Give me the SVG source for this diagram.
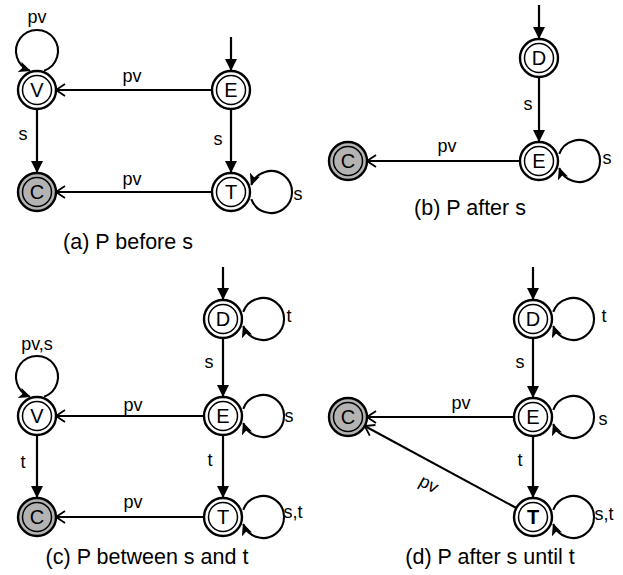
<svg xmlns="http://www.w3.org/2000/svg" width="623" height="575" viewBox="0 0 623 575">
  <style>
    text { font-family: "Liberation Sans", Arial, sans-serif; fill: #000; }
    .ring { fill: #fff; stroke: #000; stroke-width: 2.4; }
    .inner { fill: #fff; stroke: #000; stroke-width: 1.5; }
    .final .ring, .final .inner { fill: #b3b3b3; }
    .nl { font-size: 20px; text-anchor: middle; }
    .lbl { font-size: 18px; text-anchor: middle; }
    .cap { font-size: 21.5px; text-anchor: middle; }
    .edge { fill: none; stroke: #000; stroke-width: 2.2; }
    .down { marker-end: url(#tri); }
    .back { stroke-width: 2; marker-end: url(#open); }
    .loop { stroke-width: 2.1; marker-end: url(#barb); }
  </style>
  <defs>
    <marker id="tri" viewBox="0 0 12 12" refX="11" refY="6" markerWidth="12" markerHeight="12" markerUnits="userSpaceOnUse" orient="auto">
      <path d="M0,0 L12,6 L0,12 z" fill="#000"/>
    </marker>
    <marker id="barb" viewBox="0 0 12 11" refX="11" refY="5.5" markerWidth="12" markerHeight="11" markerUnits="userSpaceOnUse" orient="auto">
      <path d="M0,0 L12,5.5 L0,11 L3,5.5 z" fill="#000"/>
    </marker>
    <marker id="open" viewBox="0 0 12 16" refX="10" refY="8" markerWidth="12" markerHeight="16" markerUnits="userSpaceOnUse" orient="auto">
      <path d="M1,2 L10,8 L1,14" fill="none" stroke="#000" stroke-width="1.8"/>
    </marker>
  </defs>

  <!-- connectors -->
  <g id="connectors">
    <!-- (a) -->
    <line class="edge down" x1="231" y1="37" x2="231" y2="70"/>
    <path class="edge loop" d="M44.18,70.7 A21,21 0 1 0 29.82,70.7"/>
    <line class="edge back" x1="212" y1="90" x2="56" y2="90"/>
    <line class="edge down" x1="37" y1="109" x2="37" y2="172"/>
    <line class="edge down" x1="231" y1="109" x2="231" y2="172"/>
    <line class="edge back" x1="212" y1="192" x2="56" y2="192"/>
    <path class="edge loop" d="M251.3,199.18 A21,21 0 1 0 251.3,184.82"/>
    <!-- (b) -->
    <line class="edge down" x1="539" y1="5" x2="539" y2="38"/>
    <line class="edge down" x1="539" y1="77" x2="539" y2="141"/>
    <line class="edge back" x1="520" y1="161" x2="367" y2="161"/>
    <path class="edge loop" d="M559.3,153.82 A21,21 0 1 1 559.3,168.18"/>
    <!-- (c) -->
    <line class="edge down" x1="223" y1="267" x2="223" y2="299"/>
    <path class="edge loop" d="M243.3,311.82 A21,21 0 1 1 243.3,326.18"/>
    <line class="edge down" x1="223" y1="338" x2="223" y2="396"/>
    <path class="edge loop" d="M44.18,396.7 A21,21 0 1 0 29.82,396.7"/>
    <line class="edge back" x1="204" y1="416" x2="56" y2="416"/>
    <path class="edge loop" d="M243.3,408.82 A21,21 0 1 1 243.3,423.18"/>
    <line class="edge down" x1="37" y1="435" x2="37" y2="497"/>
    <line class="edge down" x1="223" y1="435" x2="223" y2="497"/>
    <line class="edge back" x1="204" y1="517" x2="56" y2="517"/>
    <path class="edge loop" d="M243.3,509.82 A21,21 0 1 1 243.3,524.18"/>
    <!-- (d) -->
    <line class="edge down" x1="533" y1="267" x2="533" y2="299"/>
    <path class="edge loop" d="M553.3,311.82 A21,21 0 1 1 553.3,326.18"/>
    <line class="edge down" x1="533" y1="338" x2="533" y2="397"/>
    <line class="edge back" x1="514" y1="417" x2="367" y2="417"/>
    <path class="edge loop" d="M553.3,409.82 A21,21 0 1 1 553.3,424.18"/>
    <line class="edge down" x1="533" y1="436" x2="533" y2="497"/>
    <line class="edge back" x1="516.3" y1="508" x2="364.7" y2="426"/>
    <path class="edge loop" d="M553.3,509.82 A21,21 0 1 1 553.3,524.18"/>
  </g>

  <!-- transition labels -->
  <g id="labels">
    <text class="lbl" x="37" y="23">pv</text>
    <text class="lbl" x="132" y="82">pv</text>
    <text class="lbl" x="23" y="140">s</text>
    <text class="lbl" x="218" y="145">s</text>
    <text class="lbl" x="132" y="185">pv</text>
    <text class="lbl" x="298" y="200">s</text>

    <text class="lbl" x="528" y="110">s</text>
    <text class="lbl" x="447" y="152">pv</text>
    <text class="lbl" x="607" y="164">s</text>

    <text class="lbl" x="289" y="322">t</text>
    <text class="lbl" x="209" y="368">s</text>
    <text class="lbl" x="37" y="350">pv,s</text>
    <text class="lbl" x="133" y="411">pv</text>
    <text class="lbl" x="289" y="422">s</text>
    <text class="lbl" x="23" y="468">t</text>
    <text class="lbl" x="210" y="466">t</text>
    <text class="lbl" x="133" y="508">pv</text>
    <text class="lbl" x="293" y="518">s,t</text>

    <text class="lbl" x="604" y="322">t</text>
    <text class="lbl" x="520" y="368">s</text>
    <text class="lbl" x="461" y="409">pv</text>
    <text class="lbl" x="603" y="425">s</text>
    <text class="lbl" x="520" y="466">t</text>
    <text class="lbl" x="429" y="490" transform="rotate(28.4 429 484)">pv</text>
    <text class="lbl" x="604" y="520">s,t</text>
  </g>

  <!-- (a) states -->
  <g id="a-V"><circle class="ring" cx="37" cy="90" r="19"/><circle class="inner" cx="37" cy="90" r="14.5"/><text class="nl" x="37" y="97">V</text></g>
  <g id="a-E"><circle class="ring" cx="231" cy="90" r="19"/><circle class="inner" cx="231" cy="90" r="14.5"/><text class="nl" x="231" y="97">E</text></g>
  <g id="a-C" class="final"><circle class="ring" cx="37" cy="192" r="19"/><circle class="inner" cx="37" cy="192" r="14.5"/><text class="nl" x="37" y="199">C</text></g>
  <g id="a-T"><circle class="ring" cx="231" cy="192" r="19"/><circle class="inner" cx="231" cy="192" r="14.5"/><text class="nl" x="231" y="199">T</text></g>

  <!-- (b) states -->
  <g id="b-D"><circle class="ring" cx="539" cy="58" r="19"/><circle class="inner" cx="539" cy="58" r="14.5"/><text class="nl" x="539" y="65">D</text></g>
  <g id="b-E"><circle class="ring" cx="539" cy="161" r="19"/><circle class="inner" cx="539" cy="161" r="14.5"/><text class="nl" x="539" y="168">E</text></g>
  <g id="b-C" class="final"><circle class="ring" cx="348" cy="161" r="19"/><circle class="inner" cx="348" cy="161" r="14.5"/><text class="nl" x="348" y="168">C</text></g>

  <!-- (c) states -->
  <g id="c-D"><circle class="ring" cx="223" cy="319" r="19"/><circle class="inner" cx="223" cy="319" r="14.5"/><text class="nl" x="223" y="326">D</text></g>
  <g id="c-V"><circle class="ring" cx="37" cy="416" r="19"/><circle class="inner" cx="37" cy="416" r="14.5"/><text class="nl" x="37" y="423">V</text></g>
  <g id="c-E"><circle class="ring" cx="223" cy="416" r="19"/><circle class="inner" cx="223" cy="416" r="14.5"/><text class="nl" x="223" y="423">E</text></g>
  <g id="c-C" class="final"><circle class="ring" cx="37" cy="517" r="19"/><circle class="inner" cx="37" cy="517" r="14.5"/><text class="nl" x="37" y="524">C</text></g>
  <g id="c-T"><circle class="ring" cx="223" cy="517" r="19"/><circle class="inner" cx="223" cy="517" r="14.5"/><text class="nl" x="223" y="524">T</text></g>

  <!-- (d) states -->
  <g id="d-D"><circle class="ring" cx="533" cy="319" r="19"/><circle class="inner" cx="533" cy="319" r="14.5"/><text class="nl" x="533" y="326">D</text></g>
  <g id="d-C" class="final"><circle class="ring" cx="348" cy="417" r="19"/><circle class="inner" cx="348" cy="417" r="14.5"/><text class="nl" x="348" y="424">C</text></g>
  <g id="d-E"><circle class="ring" cx="533" cy="417" r="19"/><circle class="inner" cx="533" cy="417" r="14.5"/><text class="nl" x="533" y="424">E</text></g>
  <g id="d-T"><circle class="ring" cx="533" cy="517" r="19"/><circle class="inner" cx="533" cy="517" r="14.5"/><text class="nl" x="533" y="524" font-weight="bold">T</text></g>

  <!-- captions -->
  <g id="captions">
    <text class="cap" x="128" y="249">(a) P before s</text>
    <text class="cap" x="470" y="215">(b) P after s</text>
    <text class="cap" x="147" y="564">(c) P between s and t</text>
    <text class="cap" x="490" y="564">(d) P after s until t</text>
  </g>
</svg>
